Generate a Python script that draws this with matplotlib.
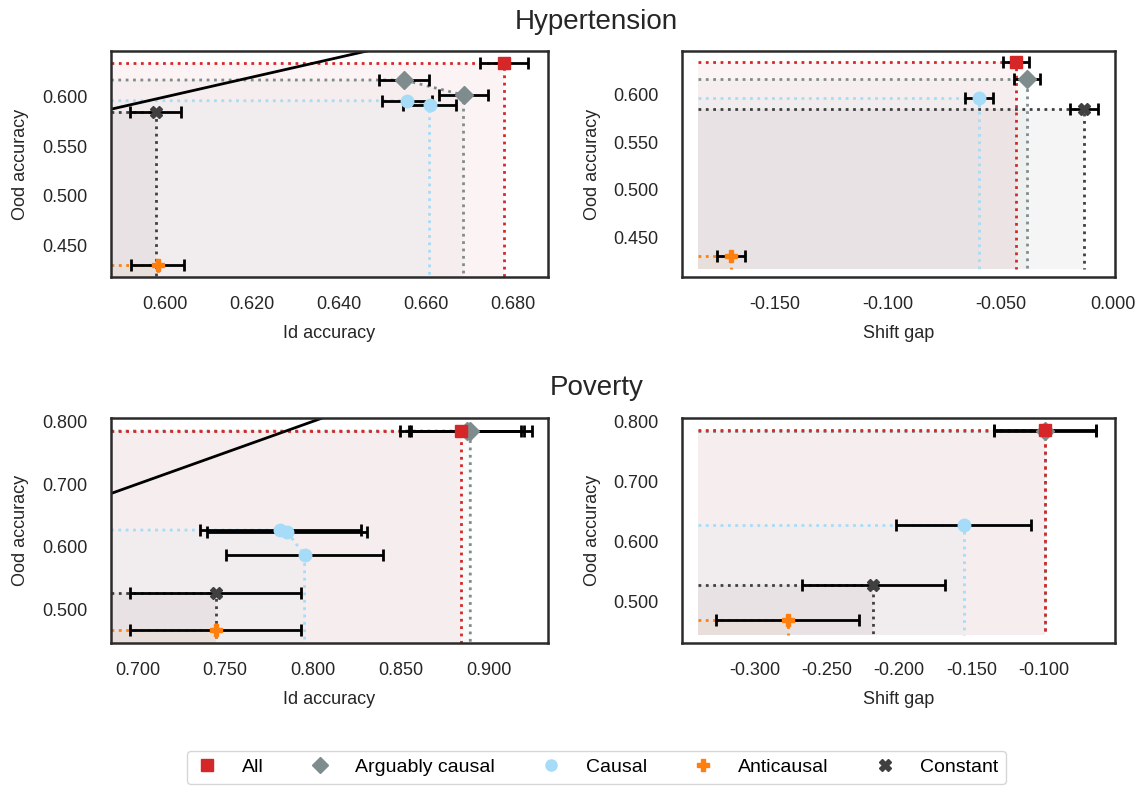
import numpy as np
import matplotlib
matplotlib.use('Agg')
import matplotlib.pyplot as plt
from matplotlib.lines import Line2D
from matplotlib.ticker import FormatStrFormatter, FixedLocator

plt.rcParams['font.family'] = ['Liberation Sans', 'DejaVu Sans']
plt.rcParams['font.size'] = 13
plt.rcParams['axes.unicode_minus'] = False

categories = ['All', 'Arguably causal', 'Causal', 'Anticausal', 'Constant']
colors = ['#d62728', '#7f8c8d', '#a6dcf8', '#ff7f0e', '#404040']
markers = ['s', 'D', 'o', 'P', 'X']

# Hypertension: in-domain vs out-of-domain accuracy (one list per category)
hyp_id = [[0.6779], [0.6549, 0.6686], [0.6556, 0.6608], [0.5983], [0.5979]]
hyp_id_err = [[0.0055], [0.0057, 0.0057], [0.0057, 0.0060], [0.0060], [0.0059]]
hyp_ood = [[0.6345], [0.6171, 0.6019], [0.5962, 0.5918], [0.4302], [0.5851]]
# Hypertension: shift gap
hyp_gap = [-0.0432, -0.0382, -0.0595, -0.1693, -0.0131]
hyp_gap_err = [0.0058, 0.0059, 0.0061, 0.0063, 0.0062]
hyp_gap_ood = [0.6345, 0.6171, 0.5962, 0.4302, 0.5851]

# Poverty
pov_id = [[0.8840], [0.8878, 0.8895], [0.7814, 0.7852, 0.7952], [0.7447], [0.7447]]
pov_id_err = [[0.0344], [0.0323, 0.0350], [0.0458, 0.0456, 0.0445], [0.0487], [0.0487]]
pov_ood = [[0.7850], [0.7845, 0.7839], [0.6268, 0.6241, 0.5869], [0.4682], [0.5267]]
pov_gap = [-0.0990, -0.0990, -0.1553, -0.2768, -0.2178]
pov_gap_err = [0.0350, 0.0350, 0.0464, 0.0494, 0.0494]
pov_gap_ood = [0.7850, 0.7839, 0.6268, 0.4682, 0.5267]

# tick values
hyp_id_ticks = [0.60, 0.62, 0.64, 0.66, 0.68]
hyp_ood_ticks = [0.45, 0.50, 0.55, 0.60]
hyp_gap_ticks = [-0.15, -0.10, -0.05, 0.0]
pov_id_ticks = [0.70, 0.75, 0.80, 0.85, 0.90]
pov_ood_ticks = [0.5, 0.6, 0.7, 0.8]
pov_gap_ticks = [-0.30, -0.25, -0.20, -0.15, -0.10]


def frontier_panel(ax, xs, xerrs, ys, xlim, ylim, floor=None):
    x0, y0 = floor if floor else (xlim[0], ylim[0])
    order = range(len(categories))[::-1]
    for i in order:
        pts = sorted(zip(xs[i], ys[i], xerrs[i]))
        px = [p[0] for p in pts]
        py = [p[1] for p in pts]
        fx = [x0] + px + [px[-1]]
        fy = [py[0]] + py + [y0]
        ax.fill(fx + [x0], fy + [y0], color=colors[i], alpha=0.05, lw=0, zorder=1)
        ax.plot(fx, fy, ls=':', lw=2, color=colors[i], zorder=2)
    for i in order:
        ax.errorbar(xs[i], ys[i], xerr=xerrs[i], fmt='none', ecolor='black',
                    elinewidth=2, capsize=4, capthick=2, zorder=3)
        ax.plot(xs[i], ys[i], ls='none', marker=markers[i], color=colors[i],
                ms=9, zorder=4)
    ax.set_xlim(xlim)
    ax.set_ylim(ylim)


fig = plt.figure(figsize=(11.43, 7.86), dpi=100)
ax1 = fig.add_axes([0.0971, 0.6476, 0.3823, 0.2875])
ax2 = fig.add_axes([0.5967, 0.6476, 0.3788, 0.2875])
ax3 = fig.add_axes([0.0971, 0.1819, 0.3823, 0.2863])
ax4 = fig.add_axes([0.5967, 0.1819, 0.3788, 0.2863])

# diagonal y = x
for ax, lim in [(ax1, (0.5876, 0.6880)), (ax3, (0.6850, 0.9337))]:
    ax.plot(lim, lim, color='black', lw=2, zorder=2.5)

frontier_panel(ax1, hyp_id, hyp_id_err, hyp_ood, (0.5876, 0.6880), (0.4181, 0.6464))
frontier_panel(ax2, [[g] for g in hyp_gap], [[e] for e in hyp_gap_err],
               [[o] for o in hyp_gap_ood], (-0.1910, 0.0007), (0.4081, 0.6462),
               floor=(-0.1839, 0.4163))
frontier_panel(ax3, pov_id, pov_id_err, pov_ood, (0.6850, 0.9337), (0.4468, 0.8053))
frontier_panel(ax4, [[g] for g in pov_gap], [[e] for e in pov_gap_err],
               [[o] for o in pov_gap_ood], (-0.3500, -0.0506), (0.4303, 0.8055),
               floor=(-0.3389, 0.4443))

for ax, xt, yt in [(ax1, hyp_id_ticks, hyp_ood_ticks), (ax2, hyp_gap_ticks, hyp_ood_ticks),
                   (ax3, pov_id_ticks, pov_ood_ticks), (ax4, pov_gap_ticks, pov_ood_ticks)]:
    ax.xaxis.set_major_locator(FixedLocator(xt))
    ax.yaxis.set_major_locator(FixedLocator(yt))
    ax.xaxis.set_major_formatter(FormatStrFormatter('%.3f'))
    ax.yaxis.set_major_formatter(FormatStrFormatter('%.3f'))
    ax.tick_params(axis='x', length=0, pad=14, labelcolor='#262626')
    ax.tick_params(axis='y', length=0, pad=17, labelcolor='#262626')
    ax.set_ylabel('Ood accuracy', color='#262626', labelpad=9)
    for s in ax.spines.values():
        s.set_linewidth(1.8)
        s.set_color('#2b2b2b')
ax1.set_xlabel('Id accuracy', color='#262626', labelpad=8)
ax3.set_xlabel('Id accuracy', color='#262626', labelpad=8)
ax2.set_xlabel('Shift gap', color='#262626', labelpad=8)
ax4.set_xlabel('Shift gap', color='#262626', labelpad=8)

fig.text(0.522, 1 - 22 / 786, 'Hypertension', ha='center', va='center', fontsize=20, color='#262626')
fig.text(0.522, 1 - 388 / 786, 'Poverty', ha='center', va='center', fontsize=20, color='#262626')

handles = [Line2D([], [], ls='none', marker=m, color=c, ms=8) for m, c in zip(markers, colors)]
fig.legend(handles, categories, loc='lower center', bbox_to_anchor=(0.522, 0.0), ncol=5,
           frameon=True, edgecolor='#cccccc', handlelength=1.2, handletextpad=1.2,
           columnspacing=2.3, fontsize=14, borderaxespad=0.1)

plt.savefig('out.png', dpi=100)
